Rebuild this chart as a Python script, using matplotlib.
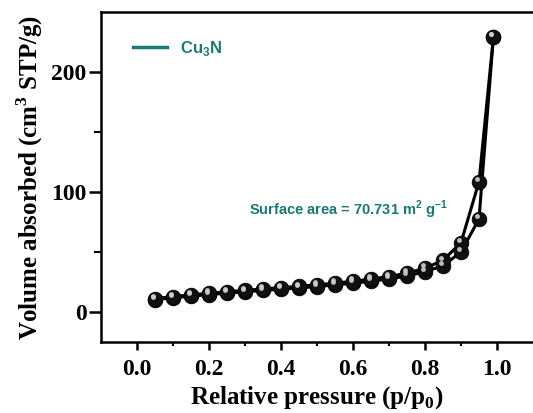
import numpy as np
import matplotlib
matplotlib.use("Agg")
import matplotlib.pyplot as plt
from matplotlib.transforms import offset_copy
from matplotlib.lines import Line2D

# N2 sorption isotherm of Cu3N
p_rel = [0.05, 0.10, 0.15, 0.20, 0.25, 0.30, 0.35, 0.40, 0.45, 0.50,
         0.55, 0.60, 0.65, 0.70, 0.75, 0.80, 0.85, 0.90, 0.95, 0.99]
v_ads = [10.3, 11.8, 13.2, 14.5, 15.7, 16.8, 17.9, 19.0, 20.0, 21.2,
         22.5, 24.0, 25.6, 27.5, 30.0, 33.5, 38.5, 50.0, 77.5, 229.0]
v_des = [11.2, 12.8, 14.3, 15.6, 16.9, 18.0, 19.2, 20.3, 21.4, 22.6,
         24.0, 25.6, 27.4, 29.5, 32.3, 36.5, 43.0, 57.8, 108.5, 229.0]

x_ticks = [0.0, 0.2, 0.4, 0.6, 0.8, 1.0]
y_ticks = [0, 100, 200]

teal = "#1a7876"
serif = "Liberation Serif"
sans = "Liberation Sans"

fig = plt.figure(figsize=(5.33, 4.13), dpi=100)
ax = fig.add_axes([0.1895, 0.172, 0.8105, 0.799])

for v in (v_ads, v_des):
    ax.plot(p_rel, v, color="black", lw=2.2, zorder=2)
    ax.plot(p_rel, v, ls="none", marker="o", ms=10.5, mfc="#111111",
            mec="black", mew=0.6, zorder=3)
    # small highlight to give the markers a shaded ball look
    hl = offset_copy(ax.transData, fig=fig, x=-1.5, y=2.0, units="points")
    ax.plot(p_rel, v, ls="none", marker="o", ms=3.5, mfc="#d0d0d0",
            mec="none", alpha=0.9, transform=hl, zorder=4)

ax.set_xlim(-0.1, 1.1)
ax.set_ylim(-25, 250)
ax.set_xticks(x_ticks)
ax.set_xticks(np.arange(0.1, 1.0, 0.2), minor=True)
ax.set_yticks(y_ticks)
ax.set_yticks([50, 150], minor=True)
ax.set_xticklabels([f"{t:.1f}" for t in x_ticks])

ax.spines["right"].set_visible(False)
for s in ("left", "bottom", "top"):
    ax.spines[s].set_linewidth(1.8)

ax.tick_params(which="both", direction="out", labelsize=17)
ax.tick_params(axis="x", which="major", length=5.5, width=1.8, pad=7)
ax.tick_params(axis="x", which="minor", length=3, width=1.5)
ax.tick_params(axis="y", which="major", length=8.5, width=1.8, pad=2)
ax.tick_params(axis="y", which="minor", length=5, width=1.5)
ax.tick_params(axis="x", which="both", top=False)
for lab in ax.get_xticklabels() + ax.get_yticklabels():
    lab.set_fontfamily(serif)
    lab.set_fontweight("bold")

ax.set_xlabel(r"Relative pressure (p/p$_\mathregular{0}$)", fontfamily=serif,
              fontweight="bold", fontsize=18, labelpad=3)
ax.set_ylabel(r"Volume absorbed (cm$^\mathregular{3}$ STP/g)",
              fontfamily=serif, fontweight="bold", fontsize=18, labelpad=4)

handle = Line2D([], [], color=teal, lw=2.5)
leg = ax.legend([handle], [r"Cu$_\mathregular{3}$N"], loc="upper left",
                frameon=False, bbox_to_anchor=(0.04, 0.965),
                handlelength=2.0, handletextpad=0.8,
                prop={"family": sans, "weight": "bold", "size": 12})
for t in leg.get_texts():
    t.set_color(teal)

ax.text(0.343, 0.40,
        r"Surface area = 70.731 m$^\mathregular{2}$ g$^\mathregular{-1}$",
        transform=ax.transAxes, color=teal, fontfamily=sans,
        fontweight="bold", fontsize=10.5, ha="left", va="center")

fig.savefig("out.png", dpi=100)
